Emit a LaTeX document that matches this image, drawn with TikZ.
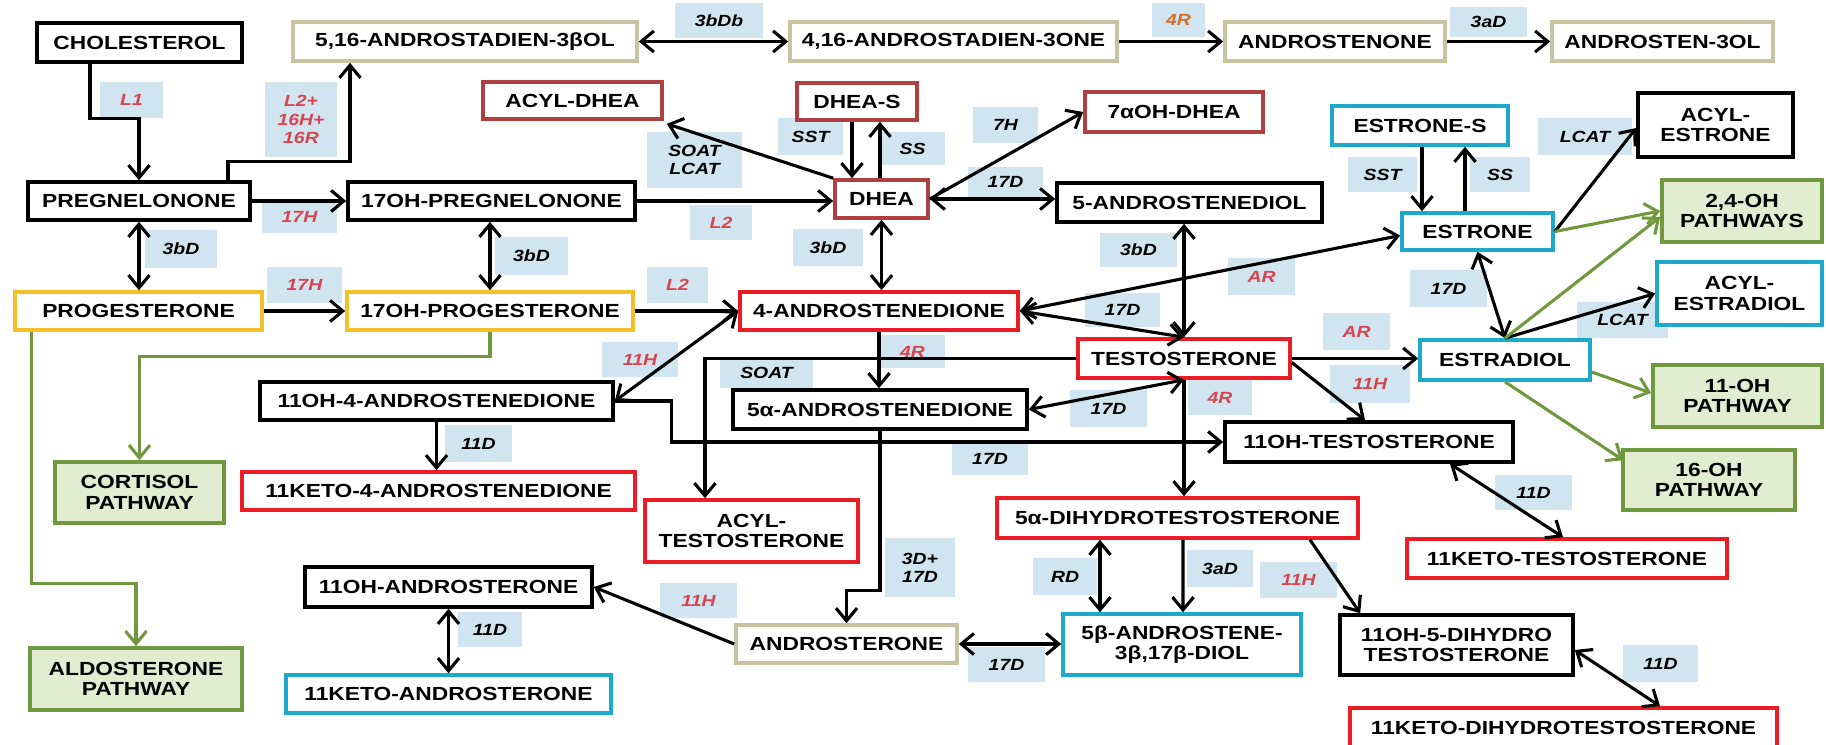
\documentclass[tikz,border=0pt]{standalone}
\usepackage{fontspec}
\usepackage{tikz}
\usetikzlibrary{calc,arrows.meta}
\newfontfamily\boxfont{Liberation Sans}[FakeStretch=1.2]
\definecolor{dred}{RGB}{176,64,64}
\definecolor{beige}{RGB}{200,196,160}
\definecolor{yel}{RGB}{244,192,40}
\definecolor{rd}{RGB}{236,28,36}
\definecolor{cy}{RGB}{30,168,204}
\definecolor{gline}{RGB}{112,152,62}
\definecolor{gfill}{RGB}{226,236,208}
\definecolor{lblue}{RGB}{208,229,239}
\definecolor{lred}{RGB}{216,68,80}
\definecolor{lorange}{RGB}{214,112,40}

\begin{document}
\begin{tikzpicture}
  [x=0.025cm,y=-0.025cm,
   sz/.style 2 args={minimum width=#1*0.025cm,minimum height=#2*0.025cm},
   box/.style={draw,line width=2.6pt,fill=white,inner sep=0pt,align=center,
     font=\boxfont\bfseries\fontsize{13.5}{14.5}\selectfont},
   pw/.style={box,draw=gline,fill=gfill},
   lab/.style={fill=lblue,inner sep=0pt,align=center,
     font=\boxfont\bfseries\itshape\fontsize{11.5}{13}\selectfont},
   labr/.style={lab,text=lred},
   arr/.style={line width=2.2pt,-{Straight Barb[length=9pt,width=15pt]}},
   darr/.style={line width=2.2pt,{Straight Barb[length=9pt,width=15pt]}-{Straight Barb[length=9pt,width=15pt]}},
   garr/.style={line width=2.2pt,draw=gline,-{Straight Barb[length=9pt,width=15pt]}}]
  \useasboundingbox (0,0) rectangle (1826,744);

  % enzyme labels
  \node[labr,sz={63}{36}] (lL1) at (131.5,100) {L1};
  \node[labr,sz={72}{75}] (lL2a) at (301,119.5) {L2+\\16H+\\16R};
  \node[labr,sz={75}{33}] (l17Ha) at (299.5,216.5) {17H};
  \node[lab,sz={88}{35}] (l3bDb) at (719,20.5) {3bDb};
  \node[lab,sz={53}{34},text=lorange] (l4Ra) at (1178.5,20) {4R};
  \node[lab,sz={77}{30}] (l3aDa) at (1488.5,22) {3aD};
  \node[lab,sz={95}{56}] (lsoatlcat) at (694.5,160) {SOAT\\LCAT};
  \node[lab,sz={65}{37}] (lSSTa) at (810.5,136.5) {SST};
  \node[lab,sz={65}{33}] (lSSa) at (912.5,148.5) {SS};
  \node[lab,sz={65}{36}] (l7H) at (1005.5,125) {7H};
  \node[lab,sz={75}{30}] (l17Da) at (1005.5,182) {17D};
  \node[labr,sz={62}{35}] (lL2b) at (721,222.5) {L2};
  \node[lab,sz={70}{37}] (l3bDc) at (828,247.5) {3bD};
  \node[lab,sz={69}{35}] (lSSTb) at (1382.5,174.5) {SST};
  \node[lab,sz={60}{35}] (lSSb) at (1500,174.5) {SS};
  \node[lab,sz={94}{37}] (lLCATa) at (1585,136.5) {LCAT};
  \node[lab,sz={72}{38}] (l3bDa) at (181,249) {3bD};
  \node[lab,sz={73}{38}] (l3bDb) at (531.5,256) {3bD};
  \node[labr,sz={75}{36}] (l17Hb) at (304.5,285) {17H};
  \node[labr,sz={61}{36}] (lL2c) at (677.5,285) {L2};
  \node[lab,sz={77}{34}] (l3bDd) at (1138.5,250) {3bD};
  \node[labr,sz={67}{37}] (lARa) at (1261.5,276.5) {AR};
  \node[lab,sz={75}{34}] (l17Db) at (1122.5,310) {17D};
  \node[lab,sz={77}{37}] (l17Dc) at (1448.5,288.5) {17D};
  \node[labr,sz={67}{37}] (lARb) at (1356.5,331.5) {AR};
  \node[lab,sz={91}{36}] (lLCATb) at (1622.5,320) {LCAT};
  \node[labr,sz={76}{35}] (l11Ha) at (640,359.5) {11H};
  \node[labr,sz={65}{33}] (l4Rb) at (912.5,351.5) {4R};
  \node[lab,sz={93}{31}] (lsoat) at (766.5,372.5) {SOAT};
  \node[lab,sz={77}{37}] (l17Dd) at (1108.5,408.5) {17D};
  \node[labr,sz={64}{35}] (l4Rc) at (1220,397.5) {4R};
  \node[labr,sz={80}{38}] (l11Hb) at (1370,384) {11H};
  \node[lab,sz={67}{37}] (l11Da) at (478.5,443.5) {11D};
  \node[lab,sz={76}{32}] (l17De) at (990,459) {17D};
  \node[lab,sz={77}{35}] (l11Db) at (1533.5,492.5) {11D};
  \node[lab,sz={70}{59}] (l3D17D) at (920,567.5) {3D+\\17D};
  \node[lab,sz={64}{37}] (lRD) at (1065,576.5) {RD};
  \node[lab,sz={66}{37}] (l3aDb) at (1220,568.5) {3aD};
  \node[labr,sz={77}{36}] (l11Hc) at (1298.5,580) {11H};
  \node[labr,sz={77}{35}] (l11Hd) at (698.5,600.5) {11H};
  \node[lab,sz={64}{35}] (l11Dc) at (490,629.5) {11D};
  \node[lab,sz={77}{35}] (l17Df) at (1006.5,664.5) {17D};
  \node[lab,sz={75}{37}] (l11Dd) at (1660.5,663.5) {11D};

  % steroids
  \node[box,sz={205}{39}] (chol) at (139.5,42.5) {CHOLESTEROL};
  \node[box,draw=beige,sz={344}{39}] (a516) at (465,41.5) {5,16-ANDROSTADIEN-3βOL};
  \node[box,draw=beige,sz={327}{39}] (a416) at (953.5,41.5) {4,16-ANDROSTADIEN-3ONE};
  \node[box,draw=beige,sz={220}{39}] (anone) at (1335,41.5) {ANDROSTENONE};
  \node[box,draw=beige,sz={221}{39}] (a3ol) at (1662.5,41.5) {ANDROSTEN-3OL};
  \node[box,draw=dred,sz={179}{37}] (acyldhea) at (572.5,100.5) {ACYL-DHEA};
  \node[box,draw=dred,sz={120}{37}] (dheas) at (857,101.5) {DHEA-S};
  \node[box,draw=dred,sz={178}{40}] (oh7dhea) at (1174,112) {7αOH-DHEA};
  \node[box,sz={222}{38}] (preg) at (139,201) {PREGNELONONE};
  \node[box,sz={287}{38}] (oh17preg) at (491.5,201) {17OH-PREGNELONONE};
  \node[box,draw=dred,sz={93}{38}] (dhea) at (881.5,199) {DHEA};
  \node[box,sz={265}{39}] (adiol) at (1189.5,202.5) {5-ANDROSTENEDIOL};
  \node[box,draw=cy,sz={176}{39}] (estrones) at (1420,125.5) {ESTRONE-S};
  \node[box,sz={155}{64}] (acylestrone) at (1715.5,125) {ACYL-\\ESTRONE};
  \node[box,draw=cy,sz={151}{37}] (estrone) at (1477.5,231.5) {ESTRONE};
  \node[pw,sz={160}{62}] (pw24) at (1742,211) {2,4-OH\\PATHWAYS};
  \node[box,draw=yel,sz={247}{38}] (prog) at (138.5,311) {PROGESTERONE};
  \node[box,draw=yel,sz={286}{38}] (oh17prog) at (490,311) {17OH-PROGESTERONE};
  \node[box,draw=rd,sz={278}{38}] (andro4) at (879,311) {4-ANDROSTENEDIONE};
  \node[box,draw=rd,sz={212}{39}] (test) at (1184,358.5) {TESTOSTERONE};
  \node[box,draw=cy,sz={165}{63}] (acylestradiol) at (1739.5,293.5) {ACYL-\\ESTRADIOL};
  \node[box,draw=cy,sz={170}{40}] (estradiol) at (1505,360) {ESTRADIOL};
  \node[box,sz={353}{38}] (oh11andro4) at (436.5,401) {11OH-4-ANDROSTENEDIONE};
  \node[box,sz={294}{39}] (a5andro) at (880,409.5) {5α-ANDROSTENEDIONE};
  \node[pw,sz={169}{62}] (pw11) at (1737.5,396) {11-OH\\PATHWAY};
  \node[box,sz={288}{40}] (oh11test) at (1369,442) {11OH-TESTOSTERONE};
  \node[pw,sz={169}{61}] (cortisol) at (139.5,492.5) {CORTISOL\\PATHWAY};
  \node[box,draw=rd,sz={393}{38}] (keto11andro4) at (438.5,491) {11KETO-4-ANDROSTENEDIONE};
  \node[box,draw=rd,sz={213}{62}] (acyltest) at (751.5,531) {ACYL-\\TESTOSTERONE};
  \node[pw,sz={172}{60}] (pw16) at (1709,480) {16-OH\\PATHWAY};
  \node[box,draw=rd,sz={361}{40}] (dht) at (1177.5,518) {5α-DIHYDROTESTOSTERONE};
  \node[box,draw=rd,sz={320}{39}] (keto11test) at (1567,558.5) {11KETO-TESTOSTERONE};
  \node[box,sz={287}{40}] (oh11andron) at (448.5,587) {11OH-ANDROSTERONE};
  \node[box,draw=beige,sz={221}{38}] (andron) at (846.5,644) {ANDROSTERONE};
  \node[box,draw=cy,sz={238}{61}] (b5diol) at (1182,644.5) {5β-ANDROSTENE-\\3β,17β-DIOL};
  \node[box,sz={233}{60}] (oh11dht) at (1456.5,645) {11OH-5-DIHYDRO\\TESTOSTERONE};
  \node[pw,sz={212}{62}] (aldo) at (136,679) {ALDOSTERONE\\PATHWAY};
  \node[box,draw=cy,sz={325}{38}] (keto11andron) at (448.5,694) {11KETO-ANDROSTERONE};
  \node[box,draw=rd,sz={427}{39}] (keto11dht) at (1563.5,727.5) {11KETO-DIHYDROTESTOSTERONE};

  % one-way steps
  \draw[arr] ($(chol.south)+(-49.5,0)$) |- ($(preg.north)+(0,-62)$) -- (preg.north);
  \draw[arr] ($(preg.north)+(89,0)$) |- ($(a516.south)+(-115,99)$) -- ($(a516.south)+(-115,0)$);
  \draw[arr] (preg.east) -- (oh17preg.west);
  \draw[arr] (oh17preg.east) -- (oh17preg.east -| dhea.west);
  \draw[arr] (a416.east) -- (anone.west);
  \draw[arr] (anone.east) -- (a3ol.west);
  \draw[arr] (dhea.north west) -- ($(acyldhea.south east)+(3,3)$);
  \draw[arr] ($(dheas.south)+(-5,0)$) -- ($(dhea.north)+(-29.5,0)$);
  \draw[arr] ($(dhea.north)+(-1.5,0)$) -- ($(dheas.south)+(23,0)$);
  \draw[arr] (dhea.east) -- (oh7dhea.west);
  \draw[arr] (prog.east) -- (oh17prog.west);
  \draw[arr] (oh17prog.east) -- (andro4.west);
  \draw[arr] (andro4.south) -- (andro4.south |- a5andro.north);
  \draw[arr] (test.west) -| ($(acyltest.north)+(-46.5,0)$);
  \draw[arr] (oh11andro4.east) -- ++(57,0) |- (oh11test.west);
  \draw[arr] (oh11andro4.south) -- (oh11andro4.south |- keto11andro4.north);
  \draw[arr] (a5andro.south) |- ($(andron.north)+(0,-33)$) -- (andron.north);
  \draw[arr] (test.south) -- (test.south |- dht.north);
  \draw[arr] (test.east) -- (test.east -| estradiol.west);
  \draw[arr] ($(test.east)+(0,4)$) -- ($(oh11test.north)+(-4,0)$);
  \draw[arr] ($(estrones.south)+(2,0)$) -- ($(estrone.north)+(-55.5,0)$);
  \draw[arr] ($(estrone.north)+(-12.5,0)$) -- ($(estrones.south)+(45,0)$);
  \draw[arr] (estrone.east) -- ($(acylestrone.west)+(0,3)$);
  \draw[arr] (estradiol.north) -- (acylestradiol.west);
  \draw[arr] ($(dht.south)+(5.5,0)$) -- ($(b5diol.north)+(1,0)$);
  \draw[arr] ($(dht.south)+(132.5,0)$) -- ($(oh11dht.north west)+(22,0)$);
  \draw[arr] (andron.west) -- (oh11andron.east);

  % reversible steps
  \draw[darr] (a516.east) -- (a416.west);
  \draw[darr] (preg.south) -- (preg.south |- prog.north);
  \draw[darr] (oh17prog.north |- oh17preg.south) -- (oh17prog.north);
  \draw[darr] (dhea.south) -- (dhea.south |- andro4.north);
  \draw[darr] (dhea.east) -- (dhea.east -| adiol.west);
  \draw[darr] (adiol.south -| test.north) -- (test.north);
  \draw[darr] (andro4.east) -- ($(estrone.west)+(0,4)$);
  \draw[darr] (andro4.east) -- (test.north);
  \draw[darr] (andro4.west) -- (oh11andro4.east);
  \draw[darr] (test.south) -- (a5andro.east);
  \draw[darr] (estrone.south) -- (estradiol.north);
  \draw[darr] ($(oh11test.south)+(81,0)$) -- ($(keto11test.north)+(-4,0)$);
  \draw[darr] ($(dht.south)+(-77.5,0)$) -- ($(b5diol.north)+(-82,0)$);
  \draw[darr] (andron.east) -- (andron.east -| b5diol.west);
  \draw[darr] (oh11andron.south) -- (keto11andron.north);
  \draw[darr] ($(oh11dht.east)+(0,5)$) -- ($(keto11dht.north)+(96.5,0)$);

  % pathways
  \draw[garr] (oh17prog.south) -- ++(0,25) -| (cortisol.north);
  \draw[garr] ($(prog.south west)+(18,0)$) |- ($(aldo.north)+(0,-63)$) -- (aldo.north);
  \draw[garr] (estrone.east) -- (pw24.west);
  \draw[garr] (estradiol.north) -- ($(pw24.west)+(0,6)$);
  \draw[garr] ($(estradiol.east)+(0,12)$) -- ($(pw11.west)+(0,-3)$);
  \draw[garr] (estradiol.south) -- ($(pw16.north west)+(2,12)$);
\end{tikzpicture}
\end{document}
